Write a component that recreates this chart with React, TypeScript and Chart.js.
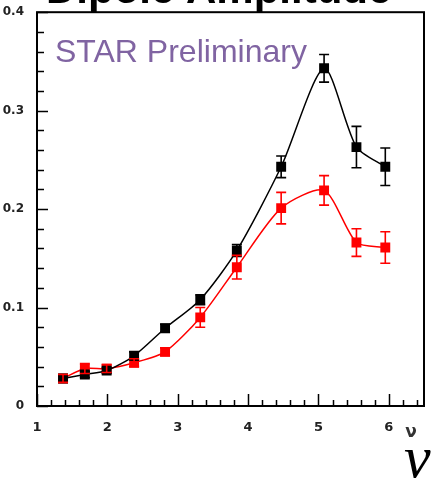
import React, { useEffect, useRef } from "react";
import { Chart, registerables } from "chart.js";

Chart.register(...registerables);

// Dipole amplitude versus ν for two selections
const nu = [1.37, 1.68, 1.99, 2.38, 2.82, 3.32, 3.84, 4.47, 5.08, 5.54, 5.95];
const blackAmp = [0.028, 0.032, 0.036, 0.051, 0.079, 0.108, 0.158, 0.243, 0.343, 0.263, 0.243];
const blackErr = [0.003, 0.003, 0.003, 0.004, 0.004, 0.005, 0.006, 0.011, 0.014, 0.021, 0.019];
const redAmp = [0.028, 0.038, 0.038, 0.044, 0.055, 0.09, 0.141, 0.201, 0.219, 0.166, 0.161];
const redErr = [0.004, 0.005, 0.004, 0.004, 0.004, 0.01, 0.012, 0.016, 0.015, 0.014, 0.016];

const yTickLabels: Record<string, string> = { "0": "0", "0.1": "0.1", "0.2": "0.2", "0.3": "0.3", "0.4": "0.4" };

const TITLE = "Dipole Amplitude";
const WATERMARK = "STAR Preliminary";
const AXIS_LABEL = "ν";

const errors = [blackErr, redErr];

const decorations = {
  id: "decorations",
  afterDatasetsDraw(chart: any) {
    const { ctx, chartArea: a, scales } = chart;
    const xs = scales.x;
    const ys = scales.y;
    ctx.save();

    // error bars with caps
    chart.data.datasets.forEach((ds: any, di: number) => {
      ctx.strokeStyle = ds.borderColor;
      ctx.lineWidth = 1.6;
      ds.data.forEach((p: any, i: number) => {
        const e = errors[di][i];
        const px = xs.getPixelForValue(p.x);
        const top = ys.getPixelForValue(p.y + e);
        const bot = ys.getPixelForValue(p.y - e);
        ctx.beginPath();
        ctx.moveTo(px, top);
        ctx.lineTo(px, bot);
        ctx.moveTo(px - 5, top);
        ctx.lineTo(px + 5, top);
        ctx.moveTo(px - 5, bot);
        ctx.lineTo(px + 5, bot);
        ctx.stroke();
      });
    });

    // frame
    ctx.strokeStyle = "#000";
    ctx.lineWidth = 2;
    ctx.strokeRect(a.left, a.top, a.right - a.left, a.bottom - a.top);

    // inward ticks
    ctx.lineWidth = 1.5;
    ctx.beginPath();
    for (let k = 0; k <= 27; k++) {
      const v = 1 + k * 0.2;
      const px = Math.round(xs.getPixelForValue(v)) + 0.5;
      const major = k % 5 === 0;
      ctx.moveTo(px, a.bottom);
      ctx.lineTo(px, a.bottom - (major ? 12 : 6));
    }
    for (let k = 0; k <= 20; k++) {
      const v = k * 0.02;
      const py = Math.round(ys.getPixelForValue(v)) + 0.5;
      const major = k % 5 === 0;
      ctx.moveTo(a.left, py);
      ctx.lineTo(a.left + (major ? 11 : 7), py);
    }
    ctx.stroke();

    // title
    ctx.fillStyle = "#000";
    ctx.font = "bold 42px 'Liberation Sans', Arial, sans-serif";
    ctx.textAlign = "left";
    ctx.textBaseline = "alphabetic";
    ctx.fillText(TITLE, 46, 3);

    // watermark
    ctx.fillStyle = "#8064a2";
    ctx.font = "32px 'Liberation Sans', Arial, sans-serif";
    ctx.fillText(WATERMARK, 55, 62);

    // axis label at the end of the x axis
    ctx.fillStyle = "#333";
    ctx.font = "bold 17px 'DejaVu Sans', sans-serif";
    ctx.textAlign = "center";
    ctx.fillText(AXIS_LABEL, 411, 437);

    // large axis symbol
    ctx.fillStyle = "#000";
    ctx.font = "italic 60px 'Liberation Serif', serif";
    ctx.textAlign = "left";
    ctx.fillText(AXIS_LABEL, 404, 477);

    ctx.restore();
  },
};

export default function App() {
  const ref = useRef<HTMLCanvasElement | null>(null);

  useEffect(() => {
    if (!ref.current) return;
    const mk = (ys: number[]) => nu.map((x, i) => ({ x, y: ys[i] }));
    const chart = new Chart(ref.current, {
      type: "line",
      data: {
        datasets: [
          {
            data: mk(blackAmp),
            borderColor: "#000000",
            backgroundColor: "#000000",
            borderWidth: 1.5,
            tension: 0.25,
            pointStyle: "rect",
            pointRadius: 7,
            pointBorderWidth: 0,
          },
          {
            data: mk(redAmp),
            borderColor: "#ff0000",
            backgroundColor: "#ff0000",
            borderWidth: 1.5,
            tension: 0.25,
            pointStyle: "rect",
            pointRadius: 7,
            pointBorderWidth: 0,
          },
        ],
      },
      options: {
        animation: false,
        responsive: false,
        devicePixelRatio: 1,
        layout: { padding: { top: 8, right: 4, left: 0, bottom: 0 } },
        plugins: { legend: { display: false }, tooltip: { enabled: false }, title: { display: false } },
        scales: {
          x: {
            type: "linear",
            min: 1,
            max: 6.5,
            grid: { display: false },
            border: { display: false },
            ticks: {
              stepSize: 1,
              includeBounds: false,
              padding: 6,
              color: "#222",
              font: { family: "'DejaVu Sans', sans-serif", weight: "bold", size: 13 },
              maxRotation: 0,
            },
            afterFit(scale: any) {
              scale.height = 72;
            },
          },
          y: {
            type: "linear",
            min: 0,
            max: 0.4,
            grid: { display: false },
            border: { display: false },
            ticks: {
              stepSize: 0.1,
              padding: 5,
              color: "#222",
              font: { family: "'DejaVu Sans', sans-serif", weight: "bold", size: 12 },
              callback: (v: any) => yTickLabels[String(Math.round(Number(v) * 10) / 10)] ?? "",
            },
            afterFit(scale: any) {
              scale.width = 37;
            },
          },
        },
      },
      plugins: [decorations],
    } as any);
    return () => chart.destroy();
  }, []);

  return (
    <div style={{ position: "fixed", top: 0, left: 0, width: 431, height: 478, background: "#fff" }}>
      <canvas ref={ref} width={431} height={478} style={{ display: "block" }} />
    </div>
  );
}
